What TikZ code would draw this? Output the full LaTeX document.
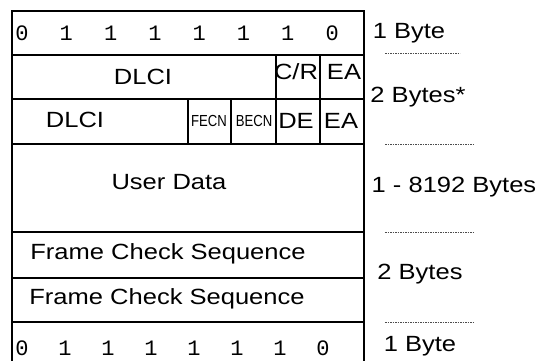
\documentclass[tikz,border=0pt]{standalone}
\usepackage{fontspec}
\setmainfont{Liberation Sans}
\newfontfamily\widesans[FakeStretch=1.16]{Liberation Sans}
\newfontfamily\narrowsans[FakeStretch=0.82]{Liberation Sans}
\newfontfamily\bitmono{Liberation Mono}
\begin{document}
\begin{tikzpicture}[x=1pt,y=-1pt,
  grid/.style={line width=1.3pt,black},
  sep/.style={line width=0.6pt,dash pattern=on 1.6pt off 0.9pt,black!70},
  lbl/.style={inner sep=0pt,font=\widesans\fontsize{22}{22}\selectfont},
  small/.style={inner sep=0pt,font=\narrowsans\fontsize{16}{16}\selectfont},
  bit/.style={inner sep=0pt,font=\bitmono\fontsize{22}{22}\selectfont}]
\useasboundingbox (0,0) rectangle (538,360);
\fill[white] (0,0) rectangle (538,360);
% frame
\draw[grid] (12,366) -- (12,11) -- (364,11) -- (364,366);
\foreach \y in {55,99,144,232,278,322} \draw[grid] (12,\y) -- (364,\y);
\draw[grid] (276,55) -- (276,144);
\draw[grid] (320,55) -- (320,144);
\draw[grid] (188,99) -- (188,144);
\draw[grid] (231,99) -- (231,144);
% top flag bits
\foreach \b [count=\i from 0] in {0,1,1,1,1,1,1,0}
  \node[bit] (t\i) at (22+44.3*\i,33) {\b};
% address
\node[lbl] (dlci1) at (143,77) {DLCI};
\node[lbl] (cr) at (296,72) {C/R};
\node[lbl] (ea1) at (344,72) {EA};
\node[lbl] (dlci2) at (75,120) {DLCI};
\node[small] (fecn) at (209,121) {FECN};
\node[small] (becn) at (254,121) {BECN};
\node[lbl] (de) at (296,121) {DE};
\node[lbl] (ea2) at (341,121) {EA};
% data
\node[lbl] (ud) at (169,182) {User Data};
\node[lbl] (fcs1) at (168,254) {Frame Check Sequence};
\node[lbl] (fcs2) at (167,299) {Frame Check Sequence};
% bottom flag bits
\foreach \b [count=\i from 0] in {0,1,1,1,1,1,1,0}
  \node[bit] (b\i) at (22+43.0*\i,348) {\b};
% right labels
\node[lbl] (r1) at (409,33) {1 Byte};
\node[lbl] (r2) at (418,97) {2 Bytes*};
\node[lbl] (r3) at (454,187) {1 - 8192 Bytes};
\node[lbl] (r4) at (420,274) {2 Bytes};
\node[lbl] (r5) at (420,346) {1 Byte};
\coordinate (s1a) at (385,53); \coordinate (s1b) at (460,53);
\coordinate (s2a) at (385,144); \coordinate (s2b) at (474,144);
\coordinate (s3a) at (385,232); \coordinate (s3b) at (474,232);
\coordinate (s4a) at (385,322); \coordinate (s4b) at (474,322);
\draw[sep] (s1a) -- (s1b);
\draw[sep] (s2a) -- (s2b);
\draw[sep] (s3a) -- (s3b);
\draw[sep] (s4a) -- (s4b);
\end{tikzpicture}
\end{document}
